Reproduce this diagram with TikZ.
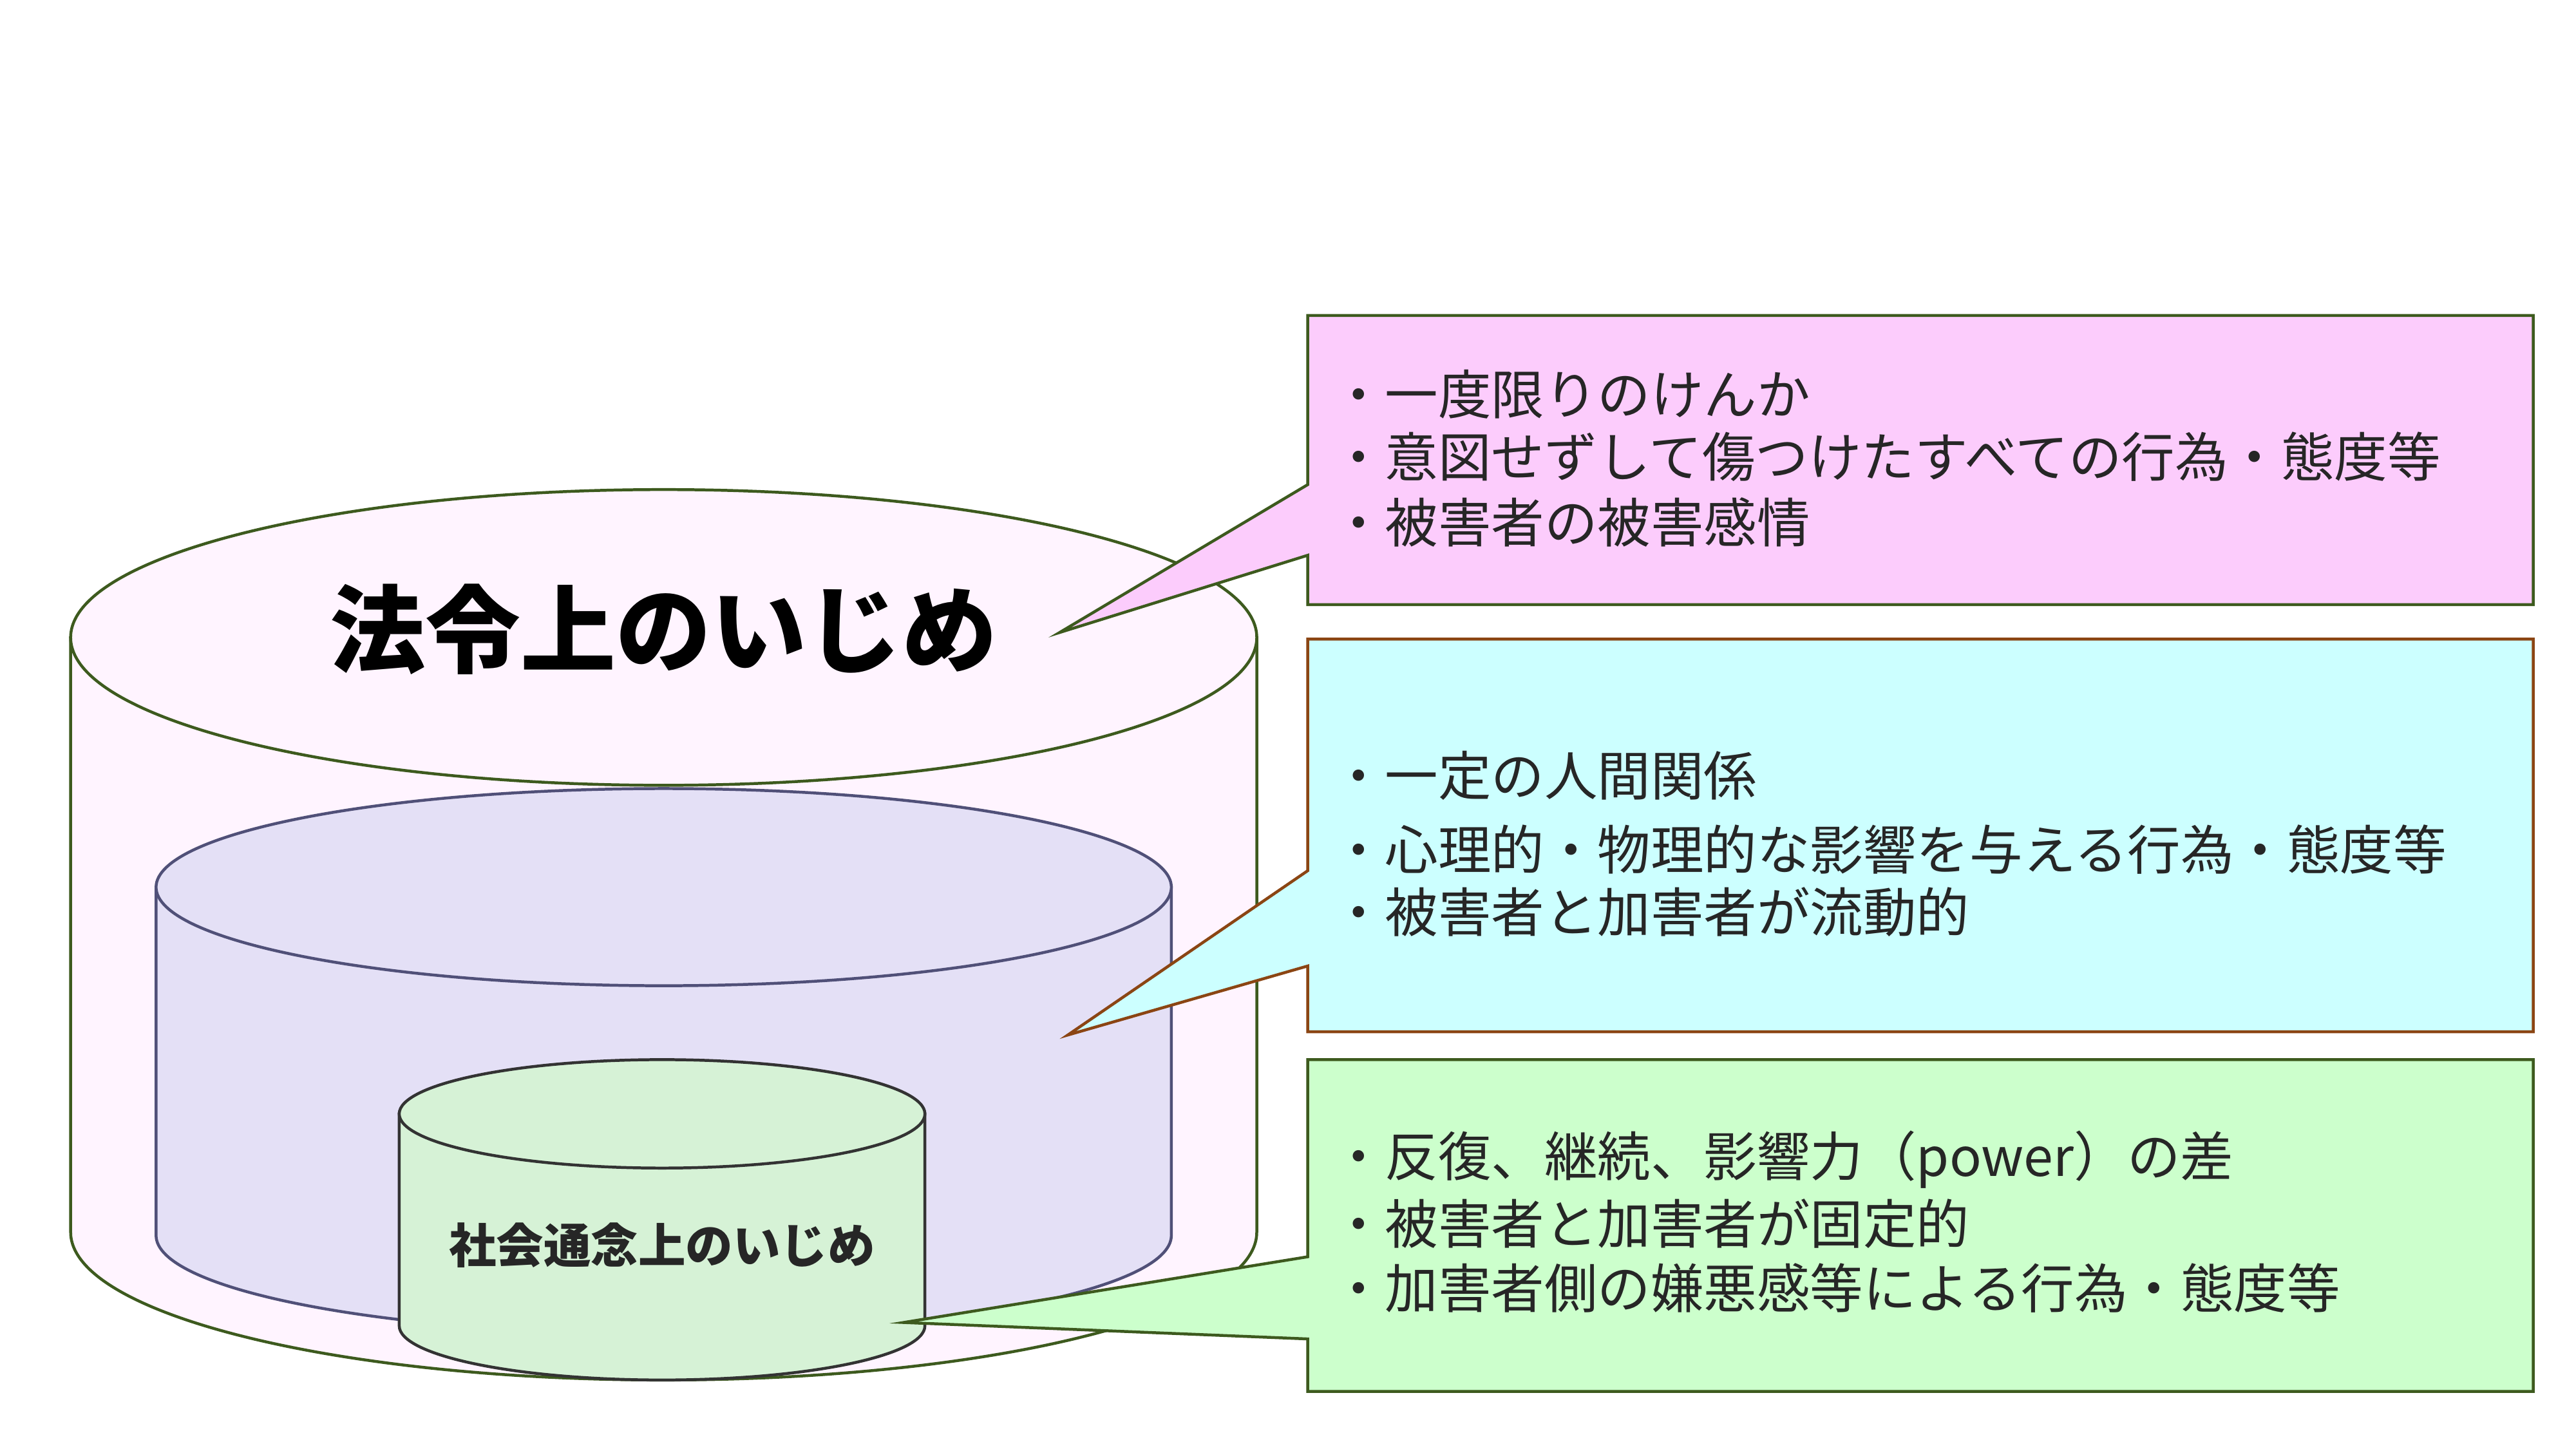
\documentclass[tikz,border=0pt]{standalone}
\usepackage{fontspec}
\setmainfont{Noto Sans CJK JP}
\begin{document}
\begin{tikzpicture}[x=0.01cm,y=-0.01cm,
  line/.style={line width=0.5pt},
  bul/.style={anchor=west,inner sep=0,font=\fontsize{9.2pt}{10pt}\selectfont,text=black!85}]
\useasboundingbox[fill=white] (0,0) rectangle (1568,882);
% outer cylinder
\definecolor{og}{HTML}{3D5A1E}
\filldraw[line,draw=og,fill={rgb,255:red,255;green,244;blue,255}]
  (43,388) -- (43,750) arc[start angle=180,end angle=0,x radius=361,y radius=90] -- (765,388) -- cycle;
\filldraw[line,draw=og,fill={rgb,255:red,255;green,244;blue,255}] (404,388) ellipse[x radius=361,y radius=90];
% middle
\filldraw[line,draw={rgb,255:red,80;green,80;blue,120},fill={rgb,255:red,228;green,224;blue,246}]
  (95,540) -- (95,752) arc[start angle=180,end angle=0,x radius=309,y radius=60] -- (713,540) -- cycle;
\filldraw[line,draw={rgb,255:red,80;green,80;blue,120},fill={rgb,255:red,228;green,224;blue,246}] (404,540) ellipse[x radius=309,y radius=60];
% inner
\filldraw[line,draw=black!80,fill={rgb,255:red,214;green,242;blue,214}]
  (243,678) -- (243,807) arc[start angle=180,end angle=0,x radius=160,y radius=33] -- (563,678) -- cycle;
\filldraw[line,draw=black!80,fill={rgb,255:red,214;green,242;blue,214}] (403,678) ellipse[x radius=160,y radius=33];
\node[font=\fontsize{16.5pt}{18pt}\selectfont\bfseries] (title) at (404,383) {法令上のいじめ};
\node[font=\fontsize{8.2pt}{9pt}\selectfont\bfseries,text=black!85] (inner) at (403,758) {社会通念上のいじめ};
% callouts
\filldraw[line,draw=og,fill={rgb,255:red,252;green,204;blue,252}]
  (796,192) -- (1542,192) -- (1542,368) -- (796,368) -- (796,338) -- (645,385) -- (796,295) -- cycle;
\filldraw[line,draw={rgb,255:red,139;green,69;blue,19},fill={rgb,255:red,204;green,255;blue,255}]
  (796,389) -- (1542,389) -- (1542,628) -- (796,628) -- (796,588) -- (650,630) -- (796,530) -- cycle;
\filldraw[line,draw=og,fill={rgb,255:red,204;green,255;blue,204}]
  (796,645) -- (1542,645) -- (1542,847) -- (796,847) -- (796,815) -- (550,805) -- (796,765) -- cycle;
\node[bul] (a1) at (810,240) {・一度限りのけんか};
\node[bul] (a2) at (810,278) {・意図せずして傷つけたすべての行為・態度等};
\node[bul] (a3) at (810,318) {・被害者の被害感情};
\node[bul] (b1) at (810,472) {・一定の人間関係};
\node[bul] (b2) at (810,517) {・心理的・物理的な影響を与える行為・態度等};
\node[bul] (b3) at (810,555) {・被害者と加害者が流動的};
\node[bul] (c1) at (810,706) {・反復、継続、影響力（power）の差};
\node[bul] (c2) at (810,745) {・被害者と加害者が固定的};
\node[bul] (c3) at (810,784) {・加害者側の嫌悪感等による行為・態度等};
\end{tikzpicture}
\end{document}
